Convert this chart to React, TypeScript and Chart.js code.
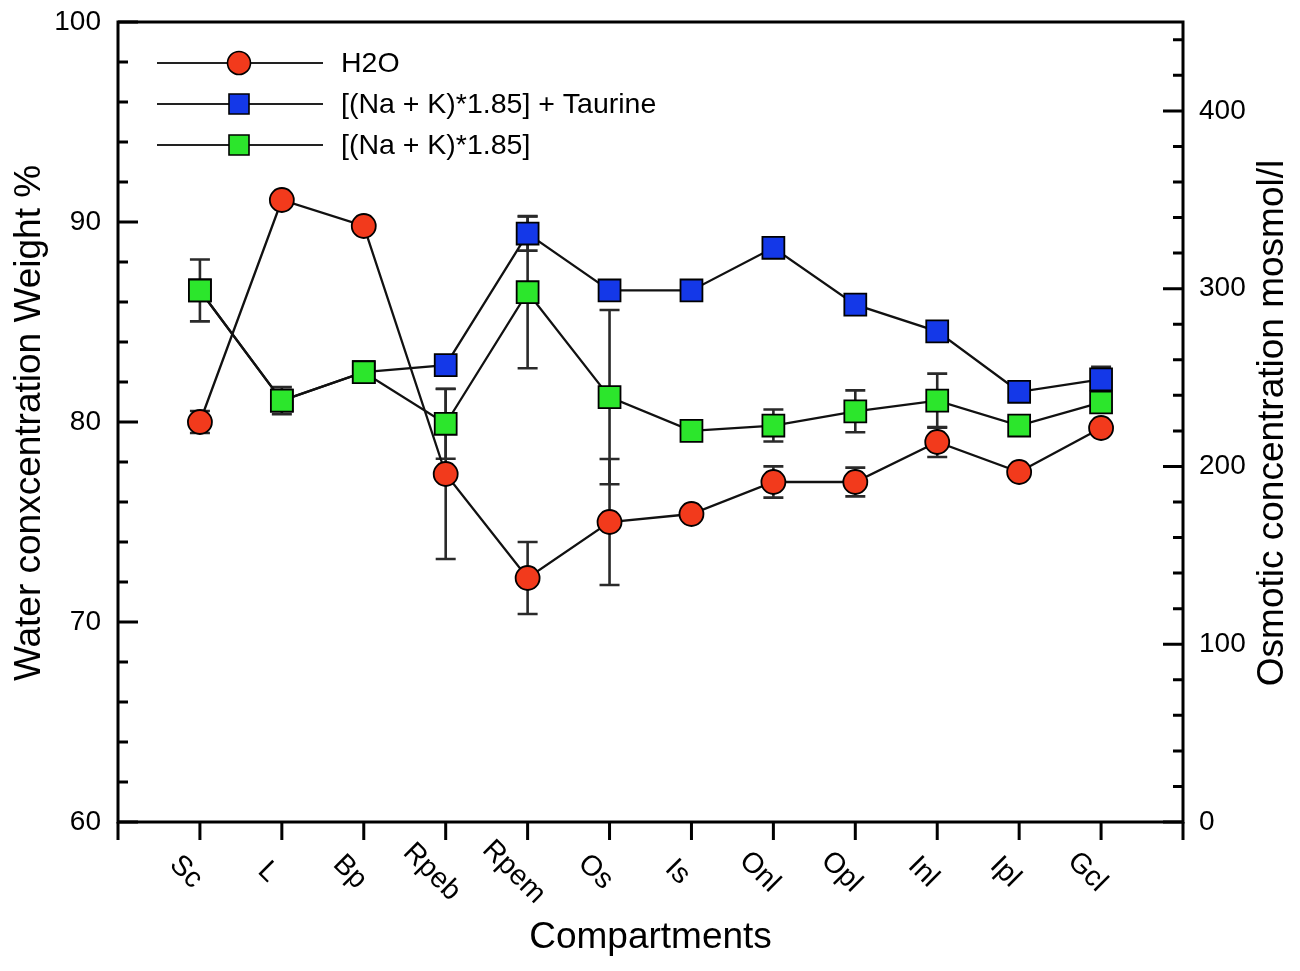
import React, { useEffect, useRef } from 'react';
import { Chart, registerables } from 'chart.js';

Chart.register(...registerables);

const categories = ['Sc', 'L', 'Bp', 'Rpeb', 'Rpem', 'Os', 'Is', 'Onl', 'Opl', 'Inl', 'Ipl', 'Gcl'];

// water content, % weight (left axis)
const h2o = [80.0, 91.1, 89.8, 77.4, 72.2, 75.0, 75.4, 77.0, 77.0, 79.0, 77.5, 79.7];
const h2oErr = [0.55, 0, 0, 4.25, 1.8, 3.15, 0, 0.78, 0.72, 0.75, 0, 0];

// osmotic concentration, mosmol/l (right axis)
const naKTaurine = [299, 237, 253, 257, 331, 299, 299, 323, 291, 276, 242, 249];
const naKTaurineErr = [0, 0, 0, 0, 9.6, 0, 0, 0, 0, 0, 0, 7];
const naK = [299, 237, 253, 224, 298, 239, 220, 223, 231, 237, 223, 236];
const naKErr = [17.4, 7.6, 0, 19.7, 42.8, 49, 0, 9, 11.8, 15.2, 0, 3.4];

const leftTicks = [60, 70, 80, 90, 100];
const rightTicks = [0, 100, 200, 300, 400];

const FONT = "'Liberation Sans', Arial, Helvetica, sans-serif";
const RED = '#f23a1c';
const BLUE = '#1438e8';
const GREEN = '#2ce62c';

const series = [
  { label: 'H2O', data: h2o, err: h2oErr, axis: 'y', color: RED, style: 'circle', radius: 12 },
  { label: '[(Na + K)*1.85]', data: naK, err: naKErr, axis: 'y2', color: GREEN, style: 'rect', radius: 15.5 },
  { label: '[(Na + K)*1.85] + Taurine', data: naKTaurine, err: naKTaurineErr, axis: 'y2', color: BLUE, style: 'rect', radius: 15.5 },
];

const legendRows = [
  { label: 'H2O', color: RED, style: 'circle' },
  { label: '[(Na + K)*1.85] + Taurine', color: BLUE, style: 'rect' },
  { label: '[(Na + K)*1.85]', color: GREEN, style: 'rect' },
];

const errorBars = {
  id: 'errorBars',
  beforeDatasetsDraw(chart: any) {
    const { ctx, scales } = chart;
    ctx.save();
    ctx.strokeStyle = '#2a2a2a';
    ctx.lineWidth = 2.6;
    series.forEach(s => {
      const ys = scales[s.axis];
      s.data.forEach((v, i) => {
        const e = s.err[i];
        if (!e) return;
        const x = scales.x.getPixelForValue(i + 1);
        const top = ys.getPixelForValue(v + e);
        const bot = ys.getPixelForValue(v - e);
        ctx.beginPath();
        ctx.moveTo(x, top); ctx.lineTo(x, bot);
        ctx.moveTo(x - 10, top); ctx.lineTo(x + 10, top);
        ctx.moveTo(x - 10, bot); ctx.lineTo(x + 10, bot);
        ctx.stroke();
      });
    });
    ctx.restore();
  },
};

const axesAndText = {
  id: 'axesAndText',
  afterDraw(chart: any) {
    const { ctx, chartArea: a, scales } = chart;
    const { x: xs, y: ys, y2 } = scales;
    ctx.save();
    ctx.strokeStyle = '#000';
    ctx.fillStyle = '#000';
    ctx.lineWidth = 3;
    ctx.strokeRect(a.left, a.top, a.right - a.left, a.bottom - a.top);

    ctx.beginPath();
    // left axis, ticks pointing in
    for (let v = 60; v <= 100; v += 2) {
      const py = ys.getPixelForValue(v);
      const len = v % 10 === 0 ? 20 : 10;
      ctx.moveTo(a.left, py); ctx.lineTo(a.left + len, py);
    }
    // right axis
    for (let v = 0; v <= 440; v += 20) {
      const py = y2.getPixelForValue(v);
      const len = v % 100 === 0 ? 20 : 10;
      ctx.moveTo(a.right, py); ctx.lineTo(a.right - len, py);
    }
    // bottom axis, ticks pointing out
    for (let v = 0; v <= categories.length + 1; v++) {
      const px = xs.getPixelForValue(v);
      ctx.moveTo(px, a.bottom); ctx.lineTo(px, a.bottom + 18);
    }
    ctx.stroke();

    ctx.font = `28px ${FONT}`;
    ctx.textBaseline = 'middle';
    ctx.textAlign = 'right';
    leftTicks.forEach(v => ctx.fillText(String(v), a.left - 17, ys.getPixelForValue(v)));
    ctx.textAlign = 'left';
    rightTicks.forEach(v => ctx.fillText(String(v), a.right + 16, y2.getPixelForValue(v)));

    ctx.font = `28.5px ${FONT}`;
    ctx.textAlign = 'center';
    categories.forEach((c, i) => {
      const px = xs.getPixelForValue(i + 1);
      ctx.save();
      ctx.translate(px - 14, a.bottom + 50);
      ctx.rotate(Math.PI / 4);
      ctx.fillText(c, 0, 0);
      ctx.restore();
    });

    ctx.font = `37px ${FONT}`;
    ctx.fillText('Compartments', (a.left + a.right) / 2, 938);
    const midY = 423;
    ctx.save();
    ctx.translate(30, midY);
    ctx.rotate(-Math.PI / 2);
    ctx.fillText('Water conxcentration Weight %', 0, 0);
    ctx.restore();
    ctx.save();
    ctx.translate(1273, midY);
    ctx.rotate(-Math.PI / 2);
    ctx.fillText('Osmotic concentration mosmol/l', 0, 0);
    ctx.restore();

    // legend
    ctx.font = `28.5px ${FONT}`;
    ctx.textAlign = 'left';
    legendRows.forEach((r, i) => {
      const ry = 63 + i * 41;
      ctx.strokeStyle = '#222';
      ctx.lineWidth = 2.2;
      ctx.beginPath();
      ctx.moveTo(157, ry); ctx.lineTo(323, ry);
      ctx.stroke();
      ctx.fillStyle = r.color;
      ctx.strokeStyle = '#000';
      ctx.lineWidth = 1.6;
      ctx.beginPath();
      if (r.style === 'circle') ctx.arc(239, ry, 11.5, 0, Math.PI * 2);
      else ctx.rect(229, ry - 10, 20, 20);
      ctx.fill();
      ctx.stroke();
      ctx.fillStyle = '#000';
      ctx.fillText(r.label, 341, ry + 1);
    });
    ctx.restore();
  },
};

export default function App() {
  const canvasRef = useRef<HTMLCanvasElement | null>(null);

  useEffect(() => {
    const ctx = canvasRef.current?.getContext('2d');
    if (!ctx) return;
    const chart = new Chart(ctx, {
      type: 'line',
      data: {
        datasets: series.map(s => ({
          label: s.label,
          data: s.data.map((v, i) => ({ x: i + 1, y: v })),
          yAxisID: s.axis,
          borderColor: '#111',
          borderWidth: 2.3,
          pointStyle: s.style as any,
          pointRadius: s.radius,
          pointBackgroundColor: s.color,
          pointBorderColor: '#000',
          pointBorderWidth: 1.8,
          tension: 0,
          clip: false as any,
        })),
      },
      options: {
        responsive: false,
        animation: false,
        devicePixelRatio: 1,
        layout: { padding: { left: 118, right: 117, top: 22, bottom: 149 } },
        plugins: { legend: { display: false }, tooltip: { enabled: false } },
        scales: {
          x: { type: 'linear', min: 0, max: 13, display: false },
          y: { type: 'linear', min: 60, max: 100, display: false },
          y2: { type: 'linear', min: 0, max: 450, display: false },
        },
      },
      plugins: [errorBars, axesAndText],
    });
    return () => chart.destroy();
  }, []);

  return (
    <div style={{ position: 'absolute', left: 0, top: 0, width: 1300, height: 971, background: '#fff' }}>
      <canvas ref={canvasRef} width={1300} height={971} />
    </div>
  );
}
